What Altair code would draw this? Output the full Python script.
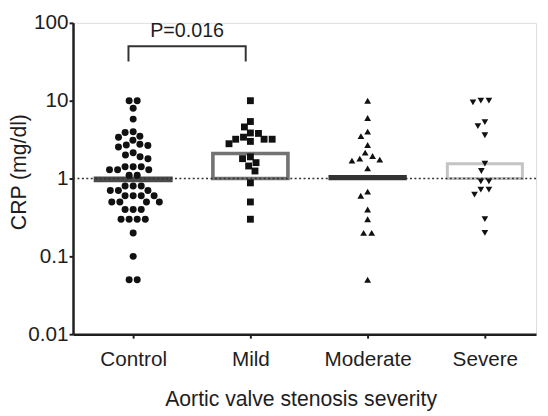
import math
import altair as alt
import pandas as pd

# ---------------- data ----------------
groups = ["Control", "Mild", "Moderate", "Severe"]
control = [10, 10, 8, 5.8, 4.0, 3.9, 3.5, 3.4, 3.1, 2.75, 2.7, 2.65, 2.55, 2.15, 2.0,
           1.9, 1.8, 1.42, 1.42, 1.42, 1.3, 1.3, 1.3, 1.1, 1.1, 0.8, 0.8, 0.8, 0.7, 0.7,
           0.7, 0.6, 0.6, 0.6, 0.6, 0.5, 0.5, 0.5, 0.5, 0.4, 0.4, 0.4, 0.3, 0.3, 0.3,
           0.3, 0.2, 0.1, 0.05, 0.05]
mild = [10, 5.4, 4.6, 3.85, 3.8, 3.4, 3.2, 3.2, 3.2, 3.0, 2.8, 1.9, 1.8, 1.6, 1.45,
        1.25, 0.88, 0.5, 0.3]
moderate = [10, 6.0, 4.0, 3.5, 2.7, 2.15, 1.95, 1.8, 1.75, 1.7, 1.35, 0.68, 0.6, 0.4,
            0.3, 0.2, 0.2, 0.05]
severe = [10, 9.5, 10, 5.3, 4.7, 3.6, 1.55, 1.25, 0.92, 0.92, 0.72, 0.72, 0.62, 0.3, 0.2]
medians = [0.95, 2.1, 1.06, 1.55]
reference_level = 1
p_label = "P=0.016"
bracket_pair = ["Control", "Mild"]
bracket_low, bracket_high = 32, 50
p_label_y = 66
y_ticks = [0.01, 0.1, 1, 10, 100]
x_title = "Aortic valve stenosis severity"
y_title = "CRP (mg/dl)"

# ---------------- layout constants ----------------
W, H = 470, 316
STEP = 119.0
X0 = -0.513
X1 = X0 + W / STEP
DOT = 8.2
FONT = "Liberation Sans"
INK = "#1e1e1e"


def ypix(v):
    return H * (2 - math.log10(v)) / 4.0


def swarm(vals, d=DOT):
    """Deterministic beeswarm: identical values form centred rows when possible."""
    res = [0.0] * len(vals)
    placed = []

    def ok(x, y):
        return all((px - x) ** 2 + (py - y) ** 2 >= d * d - 1e-6 for px, py in placed)

    for u in sorted(set(vals), reverse=True):
        idx = [i for i, v in enumerate(vals) if v == u]
        y = ypix(u)
        n = len(idx)
        row = [(k - (n - 1) / 2.0) * d for k in range(n)]
        if all(ok(x, y) for x in row):
            for i, x in zip(idx, row):
                res[i] = x
                placed.append((x, y))
            continue
        for i in idx:
            cands = [0.0]
            for px, py in placed:
                dy = abs(py - y)
                if dy < d:
                    dx = math.sqrt(d * d - dy * dy)
                    cands += [px + dx, px - dx]
            cands.sort(key=lambda c: (abs(c), c))
            for c in cands:
                if ok(c, y):
                    res[i] = c
                    placed.append((c, y))
                    break
    return res


rows = []
for gi, (g, vals) in enumerate(zip(groups, [control, mild, moderate, severe])):
    offs = swarm(vals)
    for v, o in zip(vals, offs):
        rows.append({"group": g, "value": v, "xpos": gi + o / STEP})
pts = pd.DataFrame(rows)

bars = pd.DataFrame({
    "group": groups,
    "median": medians,
    "base": [reference_level] * 4,
    "x1": [i - 0.32 for i in range(4)],
    "x2": [i + 0.32 for i in range(4)],
})

b0 = groups.index(bracket_pair[0]) - 0.04
b1 = groups.index(bracket_pair[1]) - 0.04
bracket = pd.DataFrame({
    "x": [b0, b0, b1, b1],
    "y": [bracket_low, bracket_high, bracket_high, bracket_low],
    "o": [0, 1, 2, 3],
})
ptext = pd.DataFrame({"x": [(b0 + b1) / 2], "y": [p_label_y], "t": [p_label]})

label_array = "[" + ",".join("'%s'" % g for g in groups) + "]"

xscale = alt.Scale(domain=[X0, X1], nice=False, zero=False)
yscale = alt.Scale(type="log", domain=[0.01, 100], nice=False)

xaxis = alt.Axis(
    values=list(range(4)), labelExpr=label_array + "[datum.value]",
    title=x_title, grid=False, domainWidth=2.5, domainColor=INK, tickColor=INK,
    tickWidth=2, tickSize=4, labelFont=FONT, labelFontSize=21, labelColor=INK,
    labelBaseline="alphabetic", labelPadding=28,
    titleFont=FONT, titleFontSize=21.5, titleFontWeight="normal", titleColor=INK,
    titleBaseline="alphabetic", titleY=72, titleX=231,
)
yaxis = alt.Axis(
    values=y_ticks, labelExpr="toString(datum.value)", title=y_title, grid=False,
    domainWidth=2.5, domainColor=INK, tickColor=INK, tickWidth=2, tickSize=4,
    labelFont=FONT, labelFontSize=21, labelColor=INK, labelPadding=1,
    titleFont=FONT, titleFontSize=21.5, titleFontWeight="normal", titleColor=INK,
    titleBaseline="middle", titleX=-54, titleY=151,
)

bar_layer = alt.Chart(bars).mark_rect().encode(
    x=alt.X("x1:Q", scale=xscale, axis=xaxis),
    x2="x2:Q",
    y=alt.Y("median:Q", scale=yscale, axis=yaxis),
    y2="base:Q",
    fill=alt.Fill("group:N", scale=alt.Scale(domain=groups,
                  range=["#4d4d4d", "#ffffff", "#3a3a3a", "#ffffff"]), legend=None),
    stroke=alt.Stroke("group:N", scale=alt.Scale(domain=groups,
                      range=["#4a4a4a", "#737373", "#333333", "#c4c4c4"]), legend=None),
    strokeWidth=alt.StrokeWidth("group:N", scale=alt.Scale(domain=groups,
                                range=[4, 3, 3, 3]), legend=None),
)

dotted = alt.Chart(pd.DataFrame({"y": [reference_level]})).mark_rule(
    strokeDash=[2, 2.5], color="#333333", strokeWidth=1.5
).encode(y=alt.Y("y:Q", scale=yscale), x=alt.value(0), x2=alt.value(W))

point_layer = alt.Chart(pts).mark_point(filled=True, opacity=1, color="#111111").encode(
    x=alt.X("xpos:Q", scale=xscale),
    y=alt.Y("value:Q", scale=yscale),
    shape=alt.Shape("group:N", scale=alt.Scale(domain=groups,
                    range=["circle", "square", "triangle-up", "triangle-down"]), legend=None),
    size=alt.Size("group:N", scale=alt.Scale(domain=groups, range=[50, 46, 40, 40]), legend=None),
)

bracket_layer = alt.Chart(bracket).mark_line(color="#333333", strokeWidth=2).encode(
    x=alt.X("x:Q", scale=xscale), y=alt.Y("y:Q", scale=yscale), order="o:Q"
)
text_layer = alt.Chart(ptext).mark_text(
    font=FONT, fontSize=20, color=INK, baseline="alphabetic", align="center"
).encode(x=alt.X("x:Q", scale=xscale), y=alt.Y("y:Q", scale=yscale), text="t:N")

chart = alt.layer(bar_layer, dotted, point_layer, bracket_layer, text_layer).properties(
    width=W, height=H,
    autosize=alt.AutoSizeParams(type="none"),
    padding={"left": 66, "top": 12, "right": 4, "bottom": 84},
).configure_view(stroke=None).configure(background="white")

chart.save("out.html", embed_options={"renderer": "svg", "actions": False})
